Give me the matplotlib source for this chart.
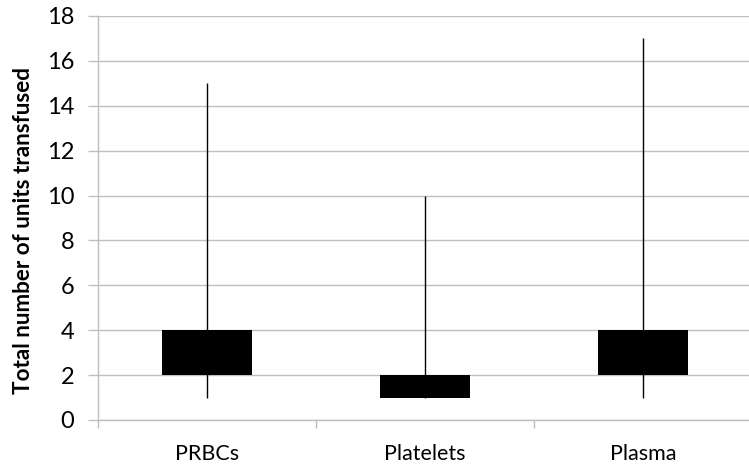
import matplotlib
matplotlib.use("Agg")
from matplotlib import pyplot as plt

categories = ["PRBCs", "Platelets", "Plasma"]
q1 = [2, 1, 2]
q3 = [4, 2, 4]
lows = [1, 1, 1]
highs = [15, 10, 17]

plt.rcParams['font.family'] = ['Lato', 'DejaVu Sans']

fig = plt.figure(figsize=(7.49, 4.70), dpi=100)
ax = fig.add_axes([98 / 749, 50 / 470, 654 / 749, 404 / 470])

grey = '#bfbfbf'
pos = [i + 0.5 for i in range(len(categories))]

# whiskers first so the boxes sit on top
ax.vlines(pos, lows, highs, color='black', linewidth=1.0, zorder=2)
ax.bar(pos, [b - a for a, b in zip(q1, q3)], bottom=q1, width=0.41,
       color='black', zorder=3)

ax.set_xlim(0, len(categories))
ax.set_ylim(0, 18)
ax.set_yticks(range(0, 19, 2))
ax.yaxis.grid(True, color=grey, linewidth=1.0)
ax.set_axisbelow(True)

ax.set_xticks(range(len(categories) + 1))
ax.set_xticklabels([])
ax.set_xticks(pos, minor=True)
ax.set_xticklabels(categories, minor=True)
ax.tick_params(axis='x', which='minor', length=0, pad=17, labelsize=15.5)
ax.tick_params(axis='x', which='major', length=6, color=grey, width=1.0)
ax.tick_params(axis='y', length=7, color=grey, width=1.0, labelsize=17, pad=10)

for side in ('top', 'right'):
    ax.spines[side].set_visible(False)
for side in ('left', 'bottom'):
    ax.spines[side].set_color(grey)
    ax.spines[side].set_linewidth(1.0)

ax.set_ylabel("Total number of units transfused", fontsize=16.2, fontweight='bold',
              labelpad=7)
ax.yaxis.set_label_coords(-0.098, 0.47)

fig.savefig("out.png", dpi=100)
